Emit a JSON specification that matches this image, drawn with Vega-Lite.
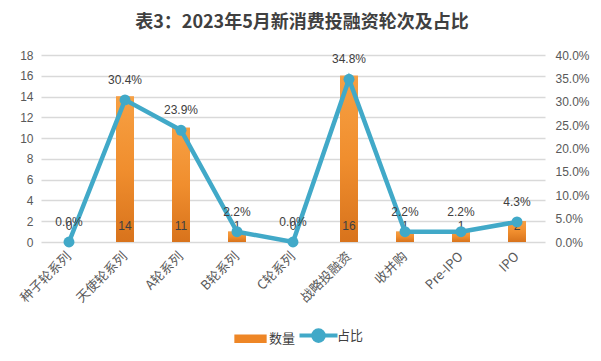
{
  "$schema": "https://vega.github.io/schema/vega-lite/v6.json",
  "width": 504,
  "height": 187,
  "autosize": {"type": "none"},
  "padding": {"left": 41, "top": 55, "right": 56, "bottom": 119},
  "background": "white",
  "title": {
    "text": "表3：2023年5月新消费投融资轮次及占比",
    "font": "Noto Sans CJK SC",
    "fontSize": 18,
    "fontWeight": "bold",
    "color": "#404040",
    "anchor": "middle",
    "frame": "group",
    "offset": 17,
    "dx": 9
  },
  "data": {
    "values": [
      {"cat": "种子轮系列", "count": 0, "pct": 0.0},
      {"cat": "天使轮系列", "count": 14, "pct": 0.304},
      {"cat": "A轮系列", "count": 11, "pct": 0.239},
      {"cat": "B轮系列", "count": 1, "pct": 0.022},
      {"cat": "C轮系列", "count": 0, "pct": 0.0},
      {"cat": "战略投融资", "count": 16, "pct": 0.348},
      {"cat": "收并购", "count": 1, "pct": 0.022},
      {"cat": "Pre-IPO", "count": 1, "pct": 0.022},
      {"cat": "IPO", "count": 2, "pct": 0.043}
    ]
  },
  "config": {
    "view": {"stroke": null},
    "axis": {
      "labelFont": "Liberation Sans",
      "labelFontSize": 12,
      "labelColor": "#595959",
      "domain": false,
      "ticks": false,
      "title": null,
      "labelOverlap": false
    }
  },
  "encoding": {
    "x": {
      "field": "cat",
      "type": "nominal",
      "sort": null,
      "scale": {"paddingInner": 0.68, "paddingOuter": 0.34},
      "axis": {
        "labelAngle": -45,
        "labelAlign": "right",
        "labelBaseline": "middle",
        "labelPadding": 12,
        "labelFont": "Noto Sans CJK SC",
        "labelFontSize": 13,
        "labelColor": "#595959",
        "grid": false
      }
    }
  },
  "layer": [
    {
      "layer": [
        {
          "mark": {"type": "bar"},
          "encoding": {
            "y": {
              "field": "count",
              "type": "quantitative",
              "scale": {"domain": [0, 18], "nice": false},
              "axis": {
                "values": [0, 2, 4, 6, 8, 10, 12, 14, 16, 18],
                "grid": true,
                "gridColor": "#D9D9D9",
                "gridWidth": 1.5,
                "labelPadding": 8,
                "labelColor": "#595959"
              }
            },
            "color": {
              "datum": "数量",
              "type": "nominal",
              "scale": {"domain": ["数量", "占比"], "range": ["#EE8626", "#41A9C8"]},
              "legend": {
                "orient": "none",
                "legendX": 203,
                "legendY": 274,
                "direction": "horizontal",
                "title": null,
                "labelFont": "Noto Sans CJK SC",
                "labelFontSize": 13,
                "labelColor": "#404040",
                "labelOffset": 12,
                "columnPadding": -5,
                "symbolSize": 1444,
                "encode": {
                  "symbols": {
                    "update": {
                      "shape": {"signal": "datum.value === '数量' ? 'M-0.85,-0.22H0.85V0.22H-0.85Z' : 'M-1,0H1M-0.28,0A0.28,0.28,0,1,1,0.28,0A0.28,0.28,0,1,1,-0.28,0'"},
                      "strokeWidth": {"signal": "datum.value === '数量' ? 0 : 4"},
                      "stroke": {"signal": "datum.value === '数量' ? 'transparent' : '#41A9C8'"},
                      "fill": {"signal": "datum.value === '数量' ? '#EE8626' : '#41A9C8'"},
                      "opacity": {"value": 1},
                      "fillOpacity": {"value": 1}
                    }
                  }
                }
              }
            }
          }
        },
        {
          "mark": {
            "type": "bar",
            "fill": {
              "gradient": "linear",
              "x1": 0, "y1": 0, "x2": 0, "y2": 1,
              "stops": [
                {"offset": 0, "color": "#F7A043"},
                {"offset": 0.5, "color": "#F08E2E"},
                {"offset": 1, "color": "#D8731C"}
              ]
            }
          },
          "encoding": {
            "y": {
              "field": "count",
              "type": "quantitative",
              "axis": {
                "values": [0, 2, 4, 6, 8, 10, 12, 14, 16, 18],
                "grid": true,
                "gridColor": "#D9D9D9",
                "gridWidth": 1.5,
                "labelPadding": 8,
                "labelColor": "#595959"
              }
            }
          }
        },
        {
          "mark": {
            "type": "text",
            "dy": -16,
            "font": "Liberation Sans",
            "fontSize": 12,
            "color": "#404040",
            "baseline": "middle"
          },
          "encoding": {
            "y": {
              "datum": 0,
              "type": "quantitative",
              "axis": {
                "values": [0, 2, 4, 6, 8, 10, 12, 14, 16, 18],
                "grid": true,
                "gridColor": "#D9D9D9",
                "gridWidth": 1.5,
                "labelPadding": 8,
                "labelColor": "#595959"
              }
            },
            "text": {"field": "count", "type": "quantitative"}
          }
        }
      ]
    },
    {
      "layer": [
        {
          "mark": {
            "type": "line",
            "color": "#41A9C8",
            "strokeWidth": 4.5,
            "point": {"filled": true, "size": 120, "color": "#41A9C8"}
          },
          "encoding": {
            "y": {
              "field": "pct",
              "type": "quantitative",
              "scale": {"domain": [0, 0.4], "nice": false},
              "axis": {
                "orient": "right",
                "format": ".1%",
                "values": [0, 0.05, 0.1, 0.15, 0.2, 0.25, 0.3, 0.35, 0.4],
                "grid": false,
                "labelPadding": 10,
                "labelColor": "#595959"
              }
            },
            "color": {"datum": "占比", "type": "nominal"}
          }
        },
        {
          "mark": {
            "type": "text",
            "dy": -20,
            "font": "Liberation Sans",
            "fontSize": 12,
            "color": "#404040",
            "baseline": "middle"
          },
          "encoding": {
            "y": {
              "field": "pct",
              "type": "quantitative",
              "axis": {
                "orient": "right",
                "format": ".1%",
                "values": [0, 0.05, 0.1, 0.15, 0.2, 0.25, 0.3, 0.35, 0.4],
                "grid": false,
                "labelPadding": 10,
                "labelColor": "#595959"
              }
            },
            "text": {"field": "pct", "type": "quantitative", "format": ".1%"}
          }
        }
      ]
    }
  ],
  "resolve": {"scale": {"y": "independent"}}
}
